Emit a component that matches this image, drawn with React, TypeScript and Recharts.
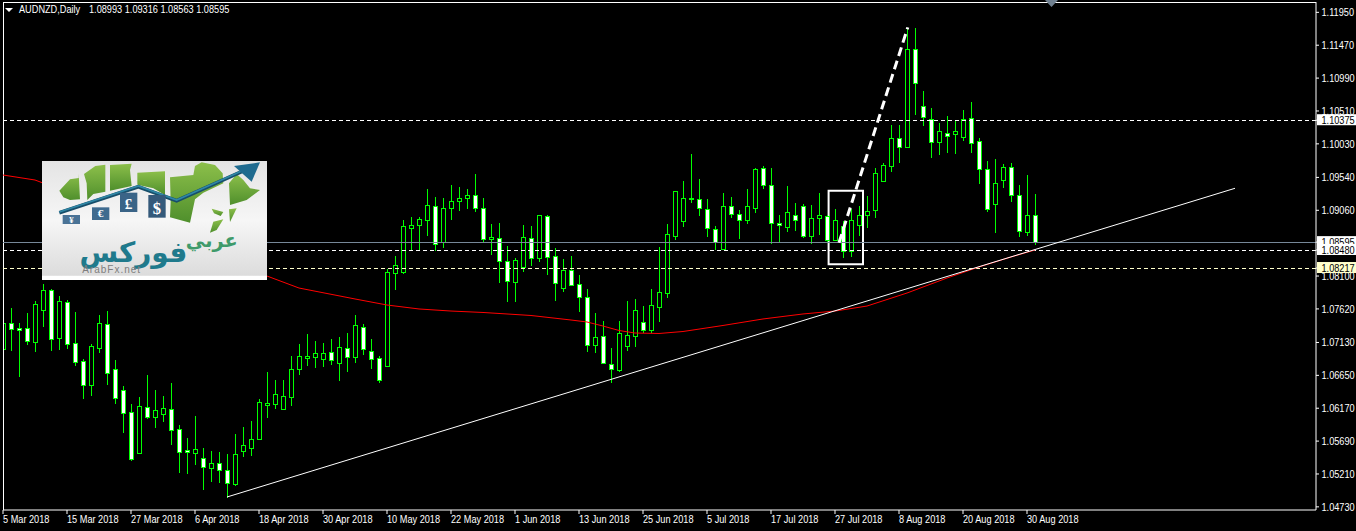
import React from "react";
import { ComposedChart, Bar, Line, XAxis, YAxis, ReferenceLine, ReferenceArea } from "recharts";

const PRICE_SCALE = 100000;

const opens = [
  107039,107410,107337,107337,107141,107608,107892,107200,107716,107118,
  106855,106513,107054,107395,106738,106432,106110,105521,106183,106046,
  106090,106154,105862,105556,105521,105439,105302,105366,105264,105068,
  105550,105594,105725,106221,106236,106163,106338,106747,106908,106922,
  106893,106986,106835,107045,106922,107351,107001,106899,106791,108149,
  108163,108806,108841,108922,109118,108601,109089,109191,109235,109279,
  109089,108636,108651,108315,108017,108236,108651,108368,108972,108388,
  107930,108184,107979,107789,107097,107220,106811,106732,107083,107229,
  107433,107312,107643,107857,108689,108908,109220,109229,109083,108782,
  108499,109118,109001,108914,109098,109673,109425,108870,108820,108987,
  109118,108680,108943,108972,108630,108826,108461,108841,108987,109068,
  109492,109711,110111,109988,111410,110578,110388,110052,110184,110169,
  110125,110403,110067,109658,109147,109506,109687,109279,108738,108993,
];
const highs = [
  107433,107652,107433,107575,107750,107994,107921,107823,107765,107589,
  106899,107118,107546,107604,106889,106509,106246,106348,106670,106451,
  106363,106553,105940,105750,106071,105604,105560,105545,105516,105808,
  105910,105998,106319,106713,106597,106597,106947,107122,107268,107166,
  107137,107195,107224,107283,107546,107414,107195,106947,108213,108407,
  108933,108976,108976,109385,109268,109254,109444,109414,109385,109604,
  109254,108874,108889,108553,108378,108860,108845,109006,109006,108524,
  108363,108407,108130,107925,107575,107458,107064,107458,107750,107779,
  107677,107925,108538,108874,109341,109502,109896,109531,109239,108845,
  109327,109268,109079,109385,109692,109721,109692,109006,109429,109181,
  109166,109152,109327,109006,109093,108918,109093,109137,109283,109692,
  109765,110320,110320,111736,111736,110816,110568,110349,110451,110378,
  110539,110655,110130,109794,109823,109750,109765,109444,109590,109316,
];
const lows = [
  107005,107020,106640,107108,107005,107370,107020,107035,107049,106801,
  106319,106363,106995,106524,106246,105823,105420,105510,106032,105896,
  105983,105648,105239,105224,105356,104991,105107,105093,104874,105049,
  105472,105487,105715,106042,106178,106155,106217,106670,106801,106772,
  106786,106816,106582,106713,106845,106962,106757,106553,106780,107911,
  108149,108495,108476,108699,108476,108524,108933,109064,109093,109049,
  108611,108422,108013,107735,107735,108178,108261,108319,108130,107750,
  107881,107969,107589,107005,106991,106830,106553,106718,107020,107078,
  107283,107283,107443,107794,108641,108830,109181,108991,108684,108495,
  108495,108962,108655,108874,109035,109385,108582,108597,108757,108772,
  108670,108582,108714,108597,108626,108378,108392,108699,108816,108966,
  109485,109633,109765,109980,110466,110305,109838,109882,109911,109896,
  110086,109911,109458,109049,108743,109400,109195,108684,108699,108563,
];
const closes = [
  107410,107322,107308,107156,107687,107892,107185,107731,107112,106849,
  106513,107074,107410,106689,106324,106105,105433,106198,106046,106140,
  106169,105856,105535,105535,105570,105316,105366,105272,105083,105497,
  105629,105716,106256,106246,106382,106353,106738,106928,106928,106972,
  106972,106878,107059,106922,107381,107039,106893,106586,108154,108257,
  108826,108841,108928,109133,108572,109089,109191,109235,109279,109098,
  108636,108665,108324,108032,108330,108665,108368,108987,108382,108003,
  108184,107973,107798,107097,107205,106835,106747,107264,107235,107600,
  107316,107673,107862,108709,109337,109235,109235,109089,108797,108601,
  109118,109001,108914,109118,109658,109425,108870,108841,109030,108914,
  108680,108943,108987,108630,108914,108461,108914,108987,109045,109600,
  109717,110111,109988,111410,110914,110417,110052,110213,110140,110213,
  110388,110038,109658,109074,109454,109687,109279,108753,108987,108595,
];

const maBars = [0,4,5,12,20,28,33,37,44,48,52,56,60,66,71,73,75,77,79,82,85,90,95,100,104,108,113,118,122,126,129];
const maValues = [
  109575,109502,109458,109122,108728,108349,108100,107925,107765,107677,107619,107589,107568,107524,107458,107429,
  107370,107305,107268,107261,107290,107378,107473,107546,107589,107662,107852,108071,108232,108378,108480,
].map((v) => v / PRICE_SCALE);

const dateBars = [0,8,16,24,32,40,48,56,64,72,80,88,96,104,112,120,128];
const dateLabels = [
  "5 Mar 2018","15 Mar 2018","27 Mar 2018","6 Apr 2018","18 Apr 2018","30 Apr 2018","10 May 2018","22 May 2018",
  "1 Jun 2018","13 Jun 2018","25 Jun 2018","5 Jul 2018","17 Jul 2018","27 Jul 2018","8 Aug 2018","20 Aug 2018","30 Aug 2018",
];

const priceTicks = [1.1195,1.1147,1.1099,1.1051,1.1003,1.0954,1.0906,1.081,1.0762,1.0713,1.0665,1.0617,1.0569,1.0521,1.0473];
const levelResistance = 1.10375;
const levelLast = 1.08595;
const levelSupport = 1.0848;
const levelLow = 1.08217;
const yTicks = [...priceTicks, levelResistance, levelLast, levelSupport, levelLow];
const yMin = 1.04684;
const yMax = 1.12101;
const xMax = 164.125;

const trendStart = { x: 28, y: 1.04874 };
const trendEnd = { x: 154, y: 1.09381 };
const impulseStart = { x: 104.5, y: 1.08587 };
const impulseEnd = { x: 113.1, y: 1.11731 };
const boxBars = [103.2, 107.5];
const boxPrices = [1.08271, 1.09346];

const rows = opens.map((o, i) => {
  const m = maBars.indexOf(i);
  return {
    i,
    open: o / PRICE_SCALE,
    high: highs[i] / PRICE_SCALE,
    low: lows[i] / PRICE_SCALE,
    close: closes[i] / PRICE_SCALE,
    range: [lows[i] / PRICE_SCALE, highs[i] / PRICE_SCALE],
    ma: m >= 0 ? maValues[m] : null,
  };
});

const UI_FONT = '"Liberation Sans", sans-serif';
const LIME = "#00ff00";
const NARROW = 0.835;

function Label(props: { x: number; y: number; fill: string; children: React.ReactNode }) {
  return (
    <text transform={`translate(${props.x} ${props.y}) scale(${NARROW} 1)`} x={0} y={0} fill={props.fill} fontFamily={UI_FONT} fontSize={11} textAnchor="start">
      {props.children}
    </text>
  );
}

function Candle(props: any) {
  const { x, y, width, height, payload } = props;
  if (!payload || height == null) return null;
  const { open, high, low, close } = payload;
  const k = height / (high - low);
  const cx = Math.round(x + width / 2) + 0.5;
  const py = (p: number) => Math.round(y + (high - p) * k) + 0.5;
  const top = py(Math.max(open, close));
  const bot = py(Math.min(open, close));
  const bear = close < open;
  const thin = bot - top < 2;
  return (
    <g shapeRendering="crispEdges">
      <line x1={cx} x2={cx} y1={py(high)} y2={py(low)} stroke={LIME} strokeWidth={1} />
      <rect x={cx - 2} y={top} width={4} height={Math.max(bot - top, 1)} fill={thin && !bear ? LIME : bear ? "#ffffff" : "#000000"} stroke={LIME} strokeWidth={1} />
    </g>
  );
}

function XTick(props: any) {
  const { x, payload } = props;
  const idx = dateBars.indexOf(payload.value);
  return <Label x={x} y={523} fill="#ffffff">{dateLabels[idx]}</Label>;
}

const boxed: Record<string, string> = {
  [String(levelResistance)]: "#ffffff",
  [String(levelLast)]: "#ffffff",
  [String(levelSupport)]: "#ffffff",
  [String(levelLow)]: "#ffffcc",
};

function YTick(props: any) {
  const { y, payload } = props;
  const bg = boxed[String(payload.value)];
  return (
    <g>
      {bg ? <rect x={1317} y={y - 6} width={39} height={11} fill={bg} /> : null}
      <Label x={1321.5} y={y + 4} fill={bg ? "#000000" : "#ffffff"}>{payload.value.toFixed(5)}</Label>
    </g>
  );
}

function Logo() {
  return (
    <svg x={42} y={161} width={225} height={119} viewBox="36 33 675 357" preserveAspectRatio="none">
      <defs>
        <linearGradient id="logoBg" x1="0" y1="0" x2="0" y2="1">
          <stop offset="0" stopColor="#e4e4e4" />
          <stop offset="0.5" stopColor="#f6f6f6" />
          <stop offset="0.96" stopColor="#dcdcdc" />
          <stop offset="0.97" stopColor="#ffffff" />
          <stop offset="1" stopColor="#ffffff" />
        </linearGradient>
        <linearGradient id="logoGreen" x1="0" y1="0" x2="0" y2="1">
          <stop offset="0" stopColor="#8cbf4a" />
          <stop offset="1" stopColor="#4f8f2c" />
        </linearGradient>
      </defs>
      <rect x={36} y={33} width={675} height={357} fill="url(#logoBg)" />
      <g fill="url(#logoGreen)">
        <polygon points="88,122 120,88 146,84 146,70 150,148 120,150 100,142" />
        <polygon points="162,72 196,48 226,44 226,125 190,132 172,150 170,100" />
        <polygon points="240,45 305,41 300,60 305,108 240,122" />
        <polygon points="322,68 405,64 405,135 370,115 322,104" />
        <polygon points="420,82 490,75 495,48 515,37 555,45 578,70 580,100 520,128 495,148 480,218 420,202 422,155" />
        <polygon points="597,100 620,72 640,90 660,115 690,120 650,150 600,165" />
        <polygon points="545,176 580,186 572,198 552,190" />
        <polygon points="540,248 550,215 580,208 560,240" />
        <polygon points="597,178 620,175 600,216" />
      </g>
      <polyline points="88,188 325,110 440,152 650,58" fill="none" stroke="#174e6a" strokeWidth={11} />
      <polyline points="88,186 325,108 440,150 650,56" fill="none" stroke="#2f87a6" strokeWidth={5} />
      <polygon points="612,48 690,37 665,95" fill="#1f6b8f" />
      <g fontFamily="Liberation Serif, serif" fontWeight={700} fill="#ffffff" textAnchor="middle">
        <rect x={98} y={195} width={52} height={27} fill="#4a7396" />
        <text x={124} y={218} fontSize={26}>¥</text>
        <rect x={186} y={172} width={52} height={38} fill="#3f6b8f" />
        <text x={212} y={202} fontSize={34}>€</text>
        <rect x={270} y={128} width={52} height={58} fill="#3a6487" />
        <text x={296} y={176} fontSize={46}>£</text>
        <rect x={355} y={135} width={52} height={68} fill="#34597a" />
        <text x={381} y={192} fontSize={50}>$</text>
      </g>
      <text x={545} y={290} fontFamily="DejaVu Sans, sans-serif" fontWeight={700} fontSize={58} fill="#3f9a6a" textAnchor="middle">عربي</text>
      <text x={310} y={336} fontFamily="DejaVu Sans, sans-serif" fontWeight={700} fontSize={84} fill="#1f7a8c" textAnchor="middle">فوركس</text>
      <text x={245} y={369} fontFamily="Liberation Sans, sans-serif" fontSize={30} letterSpacing={3} fill="#7d7d7d" textAnchor="middle">ArabFx.net</text>
    </svg>
  );
}

export default function App() {
  return (
    <div style={{ position: "absolute", left: 0, top: 0, width: 1356, height: 531, background: "#000", overflow: "hidden" }}>
      <ComposedChart width={1356} height={531} data={rows} margin={{ top: 2, left: 3, right: 0, bottom: 0 }}>
        <XAxis
          dataKey="i"
          type="number"
          domain={[0, xMax]}
          ticks={dateBars}
          interval={0}
          allowDataOverflow
          height={21}
          stroke="#ffffff"
          tickSize={4}
          tick={XTick}
        />
        <YAxis
          orientation="right"
          type="number"
          domain={[yMin, yMax]}
          ticks={yTicks}
          interval={0}
          allowDataOverflow
          width={40}
          stroke="#ffffff"
          tickSize={3}
          tick={YTick}
        />
        <ReferenceLine x={0} stroke="#ffffff" shapeRendering="crispEdges" />
        <ReferenceLine y={yMax} stroke="#ffffff" shapeRendering="crispEdges" />
        <ReferenceLine y={levelLast} stroke="#778899" shapeRendering="crispEdges" />
        <ReferenceLine y={levelResistance} stroke="#ffffff" strokeDasharray="4 3" shapeRendering="crispEdges" />
        <ReferenceLine y={levelSupport} stroke="#ffffff" strokeDasharray="4 3" shapeRendering="crispEdges" />
        <ReferenceLine y={levelLow} stroke="#ffffcc" strokeDasharray="4 3" shapeRendering="crispEdges" />
        <Bar dataKey="range" barSize={8} shape={Candle} isAnimationActive={false} />
        <Line dataKey="ma" stroke="#ff0000" strokeWidth={1} dot={false} connectNulls isAnimationActive={false} />
        <ReferenceLine segment={[trendStart, trendEnd]} stroke="#ffffff" strokeWidth={1} />
        <ReferenceLine segment={[impulseStart, impulseEnd]} stroke="#ffffff" strokeWidth={3} strokeDasharray="9 5" />
        <ReferenceArea x1={boxBars[0]} x2={boxBars[1]} y1={boxPrices[0]} y2={boxPrices[1]} fill="none" stroke="#ffffff" strokeWidth={2} />
      </ComposedChart>
      <svg width={1356} height={531} style={{ position: "absolute", left: 0, top: 0, pointerEvents: "none" }}>
        <Logo />
        <polygon points="5,8 13,8 9,12" fill="#ffffff" />
        <polygon points="1045,0 1058,0 1051.5,7" fill="#708090" />
        <Label x={19} y={13} fill="#ffffff">AUDNZD,Daily</Label>
        <Label x={89} y={13} fill="#ffffff">1.08993 1.09316 1.08563 1.08595</Label>
      </svg>
    </div>
  );
}
